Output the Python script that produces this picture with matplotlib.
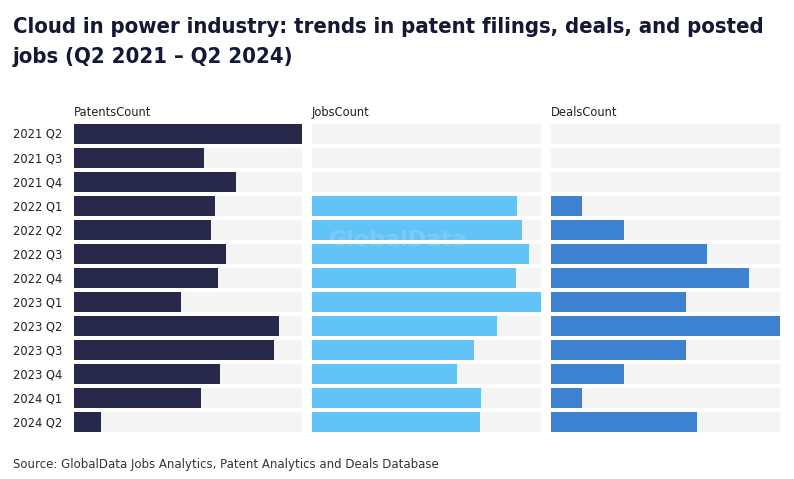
import matplotlib
matplotlib.use("Agg")
import matplotlib.pyplot as plt
import numpy as np

quarters = ["2021 Q2", "2021 Q3", "2021 Q4", "2022 Q1", "2022 Q2", "2022 Q3", "2022 Q4",
            "2023 Q1", "2023 Q2", "2023 Q3", "2023 Q4", "2024 Q1", "2024 Q2"]
patents = [100, 57, 71, 62, 60, 66.5, 63, 47, 90, 87.5, 64, 55.5, 11.7]
jobs = [0, 0, 0, 89.5, 91.7, 94.8, 89.1, 100, 80.8, 70.7, 63.3, 73.8, 73.4]
deals = [0, 0, 0, 3, 7, 15, 19, 13, 22, 13, 7, 3, 14]
panel_titles = ["PatentsCount", "JobsCount", "DealsCount"]
colors = ["#27284a", "#62c3f6", "#3d82d0"]
title1 = "Cloud in power industry: trends in patent filings, deals, and posted"
title2 = "jobs (Q2 2021 \u2013 Q2 2024)"
source = "Source: GlobalData Jobs Analytics, Patent Analytics and Deals Database"

W, H = 794, 479
fig = plt.figure(figsize=(W / 100, H / 100), dpi=100)
fig.patch.set_facecolor("white")

lefts = [74, 312, 551]
widths = [228, 229, 229]
top_px, bot_px = 122, 434
series = [patents, jobs, deals]
y = np.arange(len(quarters))

for k in range(3):
    ax = fig.add_axes([lefts[k] / W, 1 - bot_px / H, widths[k] / W, (bot_px - top_px) / H])
    vals = series[k]
    vmax = max(vals)
    ax.barh(y, [vmax] * len(y), height=0.83, color="#f4f4f4", linewidth=0)
    ax.barh(y, vals, height=0.83, color=colors[k], linewidth=0)
    ax.set_xlim(0, vmax)
    ax.set_ylim(len(y) - 0.5, -0.5)
    ax.axis("off")
    fig.text(lefts[k] / W, 1 - 116 / H, panel_titles[k], ha="left", va="baseline",
             fontsize=8.3, color="#222222", family="DejaVu Sans")

for i, q in enumerate(quarters):
    fig.text(13 / W, 1 - (138 + 24 * i) / H, q, ha="left", va="baseline",
             fontsize=8.3, color="#222222", family="DejaVu Sans")

# title, fitted to the reference width
tfam = ["DejaVu Sans"]
t1 = fig.text(13 / W, 1 - 33 / H, title1, ha="left", va="baseline", fontsize=15,
              fontweight="bold", color="#141834", family=tfam, fontstretch="condensed")
fig.canvas.draw()
w = t1.get_window_extent().width
fs = 15 * 757 / w
t1.set_fontsize(fs)
fig.text(13 / W, 1 - 63 / H, title2, ha="left", va="baseline", fontsize=fs,
         fontweight="bold", color="#141834", family=tfam, fontstretch="condensed")

fig.text(13 / W, 1 - 468 / H, source, ha="left", va="baseline", fontsize=8.5,
         color="#333333", family="DejaVu Sans")

fig.text(398 / W, 1 - 240 / H, "GlobalData", ha="center", va="center", fontsize=16,
         fontweight="bold", color="white", alpha=0.15)

fig.savefig("out.png", dpi=100)
